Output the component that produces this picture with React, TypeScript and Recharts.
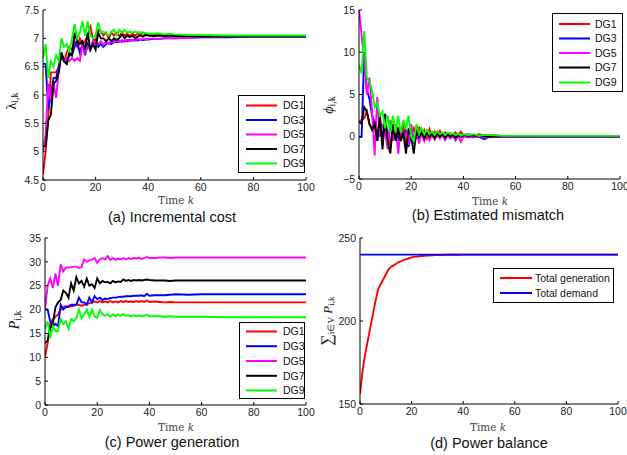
import React from 'react';
import { LineChart, Line, XAxis, YAxis } from 'recharts';

// time steps (dense early, sparse once everything has settled)
const K = [
  0, 1, 2, 3, 4, 5, 6, 7, 8, 9, 10, 11, 12, 13, 14, 15, 16, 17, 18, 19, 20,
  21, 22, 23, 24, 25, 26, 27, 28, 29, 30, 31, 32, 33, 34, 35, 36, 37, 38, 39, 40,
  42, 44, 46, 48, 50, 55, 60, 70, 80, 90, 100,
];

const DG_NAMES = ['DG1', 'DG3', 'DG5', 'DG7', 'DG9'];
const DG_COLORS = ['#ff0000', '#0000ff', '#ff00ff', '#000000', '#00ff00'];

// (a) incremental cost lambda
const LAMBDA_DG1 = [
  4.6, 5.0, 5.6, 6.4, 6.4, 6.4, 6.5, 6.7, 6.6, 6.75,
  6.85, 6.8, 6.95, 6.85, 7.0, 6.9, 6.95, 7.05, 7.2, 7.0,
  6.95, 7.15, 7.12, 7.05, 7.1, 7.0, 7.1, 7.05, 7.1, 7.04,
  7.1, 7.05, 7.08, 7.04, 7.08, 7.05, 7.08, 7.06, 7.1, 7.05,
  7.08,
  7.06, 7.07, 7.05, 7.06, 7.05, 7.05, 7.04, 7.04, 7.04, 7.04, 7.04,
];
const LAMBDA_DG3 = [
  6.55, 6.55, 5.75, 6.0, 6.3, 6.3, 6.5, 6.75, 6.6, 6.55,
  6.7, 6.7, 6.85, 6.95, 6.75, 6.9, 6.7, 6.9, 6.8, 6.95,
  6.9, 6.85, 6.9, 6.85, 6.9, 6.92, 6.9, 6.95, 6.93, 6.95,
  6.94, 6.96, 6.95, 6.97, 6.96, 6.97, 6.96, 6.98, 6.97, 6.98,
  6.98,
  6.99, 6.99, 7.0, 7.0, 7.0, 7.01, 7.02, 7.02, 7.03, 7.03, 7.03,
];
const LAMBDA_DG5 = [
  5.0, 5.3, 6.2, 5.9, 6.2, 5.95, 6.45, 6.7, 6.6, 6.65,
  6.6, 6.65, 6.6, 6.65, 6.6, 6.9, 6.75, 6.85, 6.8, 6.95,
  6.9, 6.9, 6.95, 6.88, 6.95, 6.9, 6.95, 6.92, 6.97, 6.93,
  6.97, 6.94, 6.98, 6.95, 6.98, 6.96, 6.99, 6.97, 6.99, 6.98,
  6.99,
  7.0, 6.99, 7.0, 7.01, 7.0, 7.01, 7.02, 7.03, 7.03, 7.03, 7.03,
];
const LAMBDA_DG7 = [
  5.1, 5.1, 5.55, 5.65, 6.2, 6.25, 6.4, 6.75, 6.6, 6.55,
  6.75, 6.7, 7.1, 6.95, 6.9, 6.95, 6.8, 7.1, 6.8, 6.9,
  6.8, 7.1, 7.0, 7.0, 6.95, 7.0, 6.95, 7.0, 6.97, 7.0,
  7.07, 7.0, 7.05, 7.02, 7.05, 7.0, 7.03, 7.05, 7.03, 7.06,
  7.05,
  7.04, 7.05, 7.04, 7.05, 7.04, 7.04, 7.03, 7.03, 7.03, 7.03, 7.03,
];
const LAMBDA_DG9 = [
  6.65, 6.9, 6.3, 6.6, 6.5, 6.7, 6.6, 7.0, 6.85, 6.9,
  6.75, 7.0, 7.25, 7.0, 7.1, 7.3, 7.05, 7.3, 7.05, 7.0,
  7.05, 7.28, 7.1, 7.12, 7.08, 7.05, 7.12, 7.15, 7.05, 7.15,
  7.1, 7.15, 7.1, 7.12, 7.1, 7.12, 7.1, 7.11, 7.09, 7.1,
  7.08,
  7.08, 7.09, 7.07, 7.08, 7.07, 7.06, 7.06, 7.05, 7.05, 7.05, 7.05,
];

// (b) estimated mismatch phi
const PHI_DG1 = [
  1.8, 2.0, 2.2, 3.0, 1.5, 1.0, 1.8, 0.0, 2.5, -1.0,
  2.0, 0.0, -1.0, 1.5, 0.0, 1.2, -0.5, 1.5, -1.3, 0.5,
  0.2, 1.0, -0.3, 1.2, 0.2, 0.8, -0.2, 0.9, 0.0, 0.6,
  0.1, 0.7, 0.1, 0.5, 0.2, 0.4, 0.0, 0.5, 0.1, 0.6,
  0.2,
  0.3, 0.1, 0.3, 0.1, 0.2, 0.1, 0.1, 0.05, 0.05, 0.05, 0.05,
];
const PHI_DG3 = [
  0.0, 0.0, 10.0, 5.5, 4.5, 2.5, 1.5, -0.5, 2.0, 0.0,
  1.5, -0.5, 1.0, 0.5, 1.2, -0.5, 1.0, 0.0, 0.8, -1.2,
  0.5, -0.8, 0.5, 0.0, 0.6, -0.3, 0.5, 0.0, 0.4, -0.2,
  0.3, 0.0, 0.3, -0.3, 0.2, 0.0, 0.2, -0.4, 0.2, 0.0,
  0.1,
  -0.1, 0.1, 0.0, -0.3, 0.0, 0.0, 0.0, 0.0, 0.0, 0.0, 0.0,
];
const PHI_DG5 = [
  15.0, 12.0, 9.0, 5.0, 7.0, 3.0, -2.2, 4.7, 0.0, 1.5,
  0.5, -1.5, 2.0, -0.5, 1.5, -2.0, 1.0, 0.0, 0.5, -1.0,
  1.5, -0.5, 1.0, -0.8, 0.5, -0.5, 0.6, -0.4, 0.4, -0.3,
  0.3, -0.2, 0.3, -0.4, 0.2, -0.2, 0.2, -0.3, 0.1, -0.6,
  0.0,
  0.0, -0.1, 0.1, -0.1, 0.0, 0.0, 0.0, 0.0, 0.0, 0.0, 0.0,
];
const PHI_DG7 = [
  1.8, 1.5, 3.5, 3.0, 1.5, 0.8, 1.5, -0.5, 2.5, -1.5,
  2.7, -0.5, -2.0, 1.5, -0.5, 1.0, -0.5, 0.5, -2.0, 1.0,
  0.0, -2.0, 0.8, 0.0, 0.5, -0.2, 0.6, 0.0, 0.5, -0.2,
  0.4, 0.0, 0.4, -0.1, 0.3, 0.0, 0.3, -0.1, 0.2, 0.0,
  0.2,
  0.1, 0.2, 0.0, 0.1, 0.0, 0.05, 0.05, 0.05, 0.05, 0.05, 0.05,
];
const PHI_DG9 = [
  8.5, 7.5, 12.5, 7.0, 6.5, 5.5, 3.5, 4.0, 2.5, 3.0,
  1.0, 2.5, 0.5, 2.5, 0.5, 2.5, 0.5, 2.0, 0.8, 2.5,
  0.0, -0.5, 1.5, 0.3, 1.0, 0.3, 0.8, 0.3, 0.6, 0.2,
  0.7, 0.3, 0.5, 0.2, 0.5, 0.3, 0.4, 0.2, 0.4, 0.1,
  0.3,
  0.2, 0.3, 0.1, 0.2, 0.2, 0.1, 0.1, 0.1, 0.1, 0.1, 0.1,
];

// (c) power generation P
const P_DG1 = [
  10, 13, 17, 18, 18.5, 19, 20, 20.5, 20.7, 20.5,
  20.7, 20.8, 21, 21, 20.8, 21, 21.2, 21.3, 21.5, 21.7,
  21.5, 21.8, 21.5, 21.7, 21.5, 21.8, 21.5, 21.7, 21.5, 21.8,
  21.6, 21.8, 21.6, 21.7, 21.6, 21.8, 21.6, 21.8, 21.6, 21.9,
  21.6,
  21.7, 21.6, 21.5, 21.6, 21.5, 21.5, 21.5, 21.5, 21.5, 21.5, 21.5,
];
const P_DG3 = [
  20, 20, 17.5, 16.5, 17, 16.5, 21, 20, 20.5, 20.7,
  21, 21, 21, 22.5, 21.5, 21.5, 21, 22.5, 21.5, 22.8,
  22.2, 22.5, 22, 22.3, 22.2, 22.4, 22.5, 22.5, 22.6, 22.7,
  22.7, 22.8, 22.8, 22.8, 22.9, 22.9, 22.9, 23.0, 22.8, 23.3,
  22.9,
  23.0, 23.0, 23.0, 23.1, 23.2, 23.1, 23.2, 23.2, 23.2, 23.2, 23.2,
];
const P_DG5 = [
  20, 25, 26.5, 24.5, 27.5, 25, 29.5, 28, 28.8, 28.8,
  28.9, 29, 29, 28.7, 28.9, 30.5, 30, 30.3, 30.5, 30.8,
  29.8, 30.5, 30.8, 30.5, 31.2, 30.4, 30.8, 30.4, 30.7, 30.5,
  30.8, 30.5, 30.8, 30.6, 30.8, 30.7, 30.9, 30.6, 30.8, 31.0,
  30.8,
  30.8, 30.9, 30.9, 30.8, 30.9, 30.9, 30.9, 30.9, 30.9, 30.9, 30.9,
];
const P_DG7 = [
  13, 13.5, 16, 17, 20.5, 21.5, 22, 24, 23.5, 22.5,
  25.5, 24, 26.8, 25.5, 26, 24.8, 26.5, 25, 25.3, 24.5,
  26.5, 25.5, 26, 25.7, 25.8, 25.5, 26, 25.7, 25.9, 25.8,
  26.3, 26, 26.2, 26, 26.2, 26.1, 26.2, 26.1, 26.2, 26.3,
  26.2,
  26.1, 26.1, 26.1, 26.0, 26.1, 26.1, 26.1, 26.1, 26.1, 26.1, 26.1,
];
const P_DG9 = [
  16, 17.5, 14, 16.5, 15.5, 15.5, 18, 17, 17.5, 16,
  18, 17.5, 18.2, 20, 18.2, 19, 20, 18.5, 20, 18.5,
  18.3, 19.9, 19, 18.7, 19, 18.5, 19, 18.6, 19, 18.7,
  19.1, 18.7, 18.8, 18.6, 18.8, 18.6, 18.8, 18.6, 18.7, 18.9,
  18.6,
  18.6, 18.6, 18.5, 18.6, 18.5, 18.5, 18.5, 18.4, 18.4, 18.4, 18.4,
];

// (d) power balance
const TOTAL_GEN = [
  156, 170, 180, 188, 196, 204, 212, 219, 222, 225,
  228, 231, 232.5, 233.5, 234.5, 235.5, 236, 236.8, 237.3, 237.8,
  238.3, 238.6, 238.8, 239, 239.2, 239.3, 239.4, 239.5, 239.6, 239.7,
  239.8, 239.8, 239.85, 239.9, 239.9, 239.9, 239.95, 239.95, 239.95, 240,
  240,
  240, 240, 240, 240, 240, 240, 240, 240, 240, 240, 240,
];
const DEMAND_K = [0, 100];
const TOTAL_DEMAND = [240, 240];

const X_TICKS = [0, 20, 40, 60, 80, 100];

const SANS = '"Liberation Sans", Arial, Helvetica, sans-serif';
const SERIF = '"DejaVu Serif", "Liberation Serif", serif';
const MATH = '"Liberation Serif", "Times New Roman", serif';

const pts = (ks: number[], vs: number[]) => ks.map((k, i) => ({ k, v: vs[i] }));
const minus = (v: number) => String(v).replace('-', '\u2212');

const BottomTick = ({ x, y, payload }: any) => (
  <g>
    <line x1={x} x2={x} y1={y} y2={y - 3} stroke="#000" />
    <text x={x} y={y + 11} textAnchor="middle" fontSize={10.5} fontFamily={SANS} fill="#222">
      {payload.value}
    </text>
  </g>
);
const LeftTick = ({ x, y, payload }: any) => (
  <g>
    <line x1={x} x2={x + 3} y1={y} y2={y} stroke="#000" />
    <text x={x - 4} y={y + 3.7} textAnchor="end" fontSize={10.5} fontFamily={SANS} fill="#222">
      {minus(payload.value)}
    </text>
  </g>
);
const TopTick = ({ x, y }: any) => <line x1={x} x2={x} y1={y} y2={y + 3} stroke="#000" />;
const RightTick = ({ x, y }: any) => <line x1={x} x2={x - 3} y1={y} y2={y} stroke="#000" />;

type Series = { name: string; color: string; data: { k: number; v: number }[] };

function Panel({ box, plot, yDomain, yTicks, series }: {
  box: { l: number; t: number; w: number };
  plot: { l: number; t: number; r: number; b: number };
  yDomain: [number, number];
  yTicks: number[];
  series: Series[];
}) {
  const h = plot.b + 20 - box.t;
  return (
    <div style={{ position: 'absolute', left: box.l, top: box.t }}>
      <LineChart
        width={box.w}
        height={h}
        margin={{ top: plot.t - box.t, right: box.l + box.w - plot.r, left: 0, bottom: 0 }}
      >
        <XAxis xAxisId="b" type="number" dataKey="k" domain={[0, 100]} ticks={X_TICKS}
          allowDataOverflow interval={0} height={20} tickSize={0} tickMargin={0}
          tickLine={false} axisLine={{ stroke: '#000' }} tick={<BottomTick />} />
        <XAxis xAxisId="t" orientation="top" type="number" dataKey="k" domain={[0, 100]} ticks={X_TICKS}
          allowDataOverflow interval={0} height={0} tickSize={0} tickMargin={0}
          tickLine={false} axisLine={{ stroke: '#000' }} tick={<TopTick />} />
        <YAxis yAxisId="l" type="number" domain={yDomain} ticks={yTicks} allowDataOverflow
          interval={0} width={plot.l - box.l} tickSize={0} tickMargin={0}
          tickLine={false} axisLine={{ stroke: '#000' }} tick={<LeftTick />} />
        <YAxis yAxisId="r" orientation="right" type="number" domain={yDomain} ticks={yTicks} allowDataOverflow
          interval={0} width={0} tickSize={0} tickMargin={0}
          tickLine={false} axisLine={{ stroke: '#000' }} tick={<RightTick />} />
        {series.map((s) => (
          <Line key={s.name} xAxisId="b" yAxisId="l" data={s.data} dataKey="v" type="linear"
            stroke={s.color} strokeWidth={1.9} dot={false} isAnimationActive={false} />
        ))}
      </LineChart>
    </div>
  );
}

function LegendBox({ left, top, width, height, rows, sample, textX, fontSize }: {
  left: number; top: number; width: number; height: number;
  rows: { name: string; color: string; y: number }[];
  sample: [number, number]; textX: number; fontSize: number;
}) {
  return (
    <div style={{ position: 'absolute', left, top, width, height, border: '1px solid #000', background: '#fff', boxSizing: 'border-box' }}>
      <svg width={width} height={height} style={{ position: 'absolute', left: -1, top: -1 }}>
        {rows.map((r) => (
          <g key={r.name}>
            <line x1={sample[0]} x2={sample[1]} y1={r.y} y2={r.y} stroke={r.color} strokeWidth={2} />
            <text x={textX} y={r.y + fontSize * 0.36} fontSize={fontSize} fontFamily={SANS} fill="#111">{r.name}</text>
          </g>
        ))}
      </svg>
    </div>
  );
}

const Centered = ({ cx, cy, size, font, children }: any) => (
  <div style={{ position: 'absolute', left: cx - 120, top: cy - size, width: 240, height: size * 2, lineHeight: `${size * 2}px`, textAlign: 'center', fontSize: size, fontFamily: font, color: '#111', whiteSpace: 'nowrap' }}>
    {children}
  </div>
);

const Rotated = ({ cx, cy, size, children }: any) => (
  <div style={{ position: 'absolute', left: cx - 60, top: cy - 10, width: 120, height: 20, lineHeight: '20px', textAlign: 'center', fontSize: size, fontFamily: MATH, color: '#111', transform: 'rotate(-90deg)', whiteSpace: 'nowrap' }}>
    {children}
  </div>
);

const TimeK = ({ cx, cy }: any) => (
  <Centered cx={cx} cy={cy} size={10.5} font={SERIF}>
    <span style={{ color: '#444' }}>Time <i>k</i></span>
  </Centered>
);

const sub = (s: string) => <sub style={{ fontSize: '70%', verticalAlign: '-0.25em' }}>{s}</sub>;

const mk = (lists: number[][]) => DG_NAMES.map((name, i) => ({ name, color: DG_COLORS[i], data: pts(K, lists[i]) }));

export default function App() {
  const lambda = mk([LAMBDA_DG1, LAMBDA_DG3, LAMBDA_DG5, LAMBDA_DG7, LAMBDA_DG9]);
  const phi = mk([PHI_DG1, PHI_DG3, PHI_DG5, PHI_DG7, PHI_DG9]);
  const power = mk([P_DG1, P_DG3, P_DG5, P_DG7, P_DG9]);
  const balance: Series[] = [
    { name: 'Total generation', color: '#ff0000', data: pts(K, TOTAL_GEN) },
    { name: 'Total demand', color: '#0000ff', data: pts(DEMAND_K, TOTAL_DEMAND) },
  ];
  const dgRows = (ys: number[]) => DG_NAMES.map((name, i) => ({ name, color: DG_COLORS[i], y: ys[i] }));

  return (
    <div style={{ position: 'absolute', left: 0, top: 0, width: 627, height: 455, background: '#fff', overflow: 'hidden' }}>
      <Panel box={{ l: 0, t: 0, w: 320 }} plot={{ l: 43, t: 10, r: 306, b: 180 }}
        yDomain={[4.5, 7.5]} yTicks={[4.5, 5, 5.5, 6, 6.5, 7, 7.5]} series={lambda} />
      <Panel box={{ l: 320, t: 0, w: 307 }} plot={{ l: 359, t: 10, r: 620, b: 179 }}
        yDomain={[-5, 15]} yTicks={[-5, 0, 5, 10, 15]} series={phi} />
      <Panel box={{ l: 0, t: 228, w: 320 }} plot={{ l: 45, t: 238, r: 306, b: 405 }}
        yDomain={[0, 35]} yTicks={[0, 5, 10, 15, 20, 25, 30, 35]} series={power} />
      <Panel box={{ l: 320, t: 228, w: 307 }} plot={{ l: 360, t: 238, r: 618, b: 404 }}
        yDomain={[150, 250]} yTicks={[150, 200, 250]} series={balance} />

      <LegendBox left={238} top={95} width={67} height={78} rows={dgRows([10.5, 25, 39.5, 54, 68.5])}
        sample={[8, 39]} textX={45} fontSize={10.5} />
      <LegendBox left={552} top={13} width={71} height={79} rows={dgRows([11, 25.5, 40, 54.5, 69.5])}
        sample={[7, 38]} textX={43} fontSize={10.5} />
      <LegendBox left={239} top={322} width={66} height={77} rows={dgRows([9.5, 24.2, 39, 53.8, 68.5])}
        sample={[7, 38]} textX={44} fontSize={10.5} />
      <LegendBox left={493} top={268} width={121} height={35}
        rows={balance.map((s, i) => ({ name: s.name, color: s.color, y: [10, 25][i] }))}
        sample={[7, 39]} textX={42} fontSize={10.5} />

      <Rotated cx={12} cy={101} size={14}>λ{sub('i,k')}</Rotated>
      <Rotated cx={329} cy={105} size={14}><i>ϕ</i>{sub('i,k')}</Rotated>
      <Rotated cx={15} cy={320} size={14}><i>P</i>{sub('i,k')}</Rotated>
      <Rotated cx={327} cy={321} size={13}><span style={{ fontSize: 16 }}>∑</span>{sub('i∈V')} <i>P</i>{sub('i,k')}</Rotated>

      <TimeK cx={176} cy={200} />
      <TimeK cx={490} cy={201} />
      <TimeK cx={176} cy={427} />
      <TimeK cx={488} cy={427} />

      <Centered cx={172} cy={217} size={14.5} font={SANS}>(a) Incremental cost</Centered>
      <Centered cx={488} cy={215} size={14.5} font={SANS}>(b) Estimated mismatch</Centered>
      <Centered cx={172} cy={442} size={14.5} font={SANS}>(c) Power generation</Centered>
      <Centered cx={489} cy={443} size={14.5} font={SANS}>(d) Power balance</Centered>
    </div>
  );
}
